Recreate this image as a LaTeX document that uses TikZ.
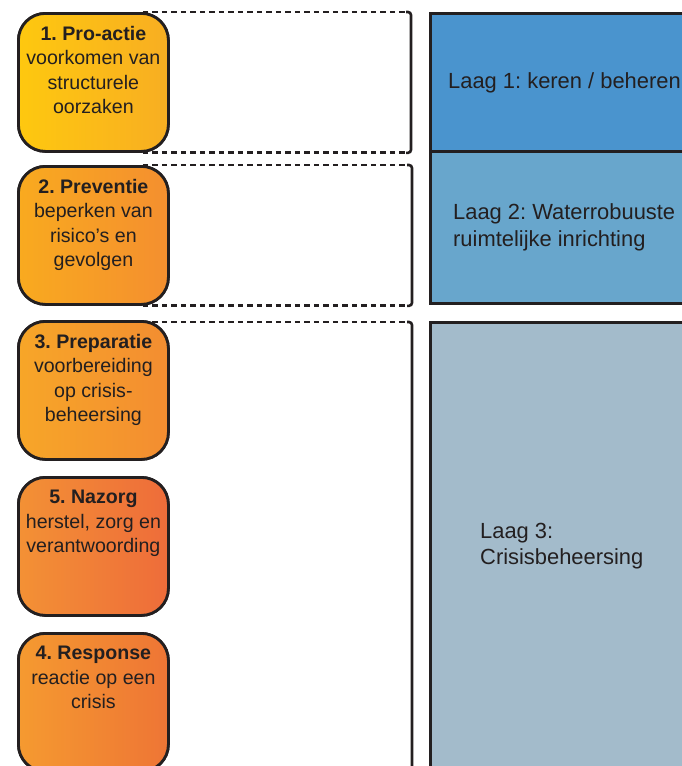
\documentclass[tikz,border=0pt]{standalone}
\usepackage{fontspec}
\setmainfont{Liberation Sans}
\frenchspacing
\definecolor{ink}{HTML}{231F20}
\definecolor{layA}{HTML}{4A94CE}
\definecolor{layB}{HTML}{68A6CC}
\definecolor{layC}{HTML}{A3BBCB}
\definecolor{pAl}{HTML}{FEC80F}\definecolor{pAr}{HTML}{F8AE22}
\definecolor{pBl}{HTML}{F9AA1F}\definecolor{pBr}{HTML}{F48F2F}
\definecolor{pCl}{HTML}{F7A628}\definecolor{pCr}{HTML}{F38D31}
\definecolor{pEl}{HTML}{F39135}\definecolor{pEr}{HTML}{EE6C3A}
\definecolor{pDl}{HTML}{F59A30}\definecolor{pDr}{HTML}{EE7535}
\begin{document}
\begin{tikzpicture}[x=1pt,y=-1pt,
  phase/.style={draw=ink, line width=2.8pt, rounded corners=27pt,
    minimum width=150pt, minimum height=138pt, inner sep=0pt, anchor=north west},
  phasetext/.style={anchor=north, align=center, inner sep=0pt, text=ink,
    font=\fontsize{19.6}{24.5}\selectfont},
  layer/.style={draw=ink, line width=3pt, inner sep=0pt, anchor=north west},
  layertext/.style={anchor=north west, align=left, inner sep=0pt, text=ink,
    font=\fontsize{21.9}{26.5}\selectfont},
  bracketdash/.style={draw=ink, line width=2.8pt, dash pattern=on 5.5pt off 4pt},
  bracketside/.style={draw=ink, line width=2.6pt, rounded corners=3pt},
]
\useasboundingbox (0,0) rectangle (682,766);
\clip (0,0) rectangle (682,766);

% layers on the right
\node[layer, fill=layA, minimum width=280pt, minimum height=138pt] (l1) at (429,12) {};
\node[layer, fill=layB, minimum width=280pt, minimum height=152pt] (l2) at (429,150) {};
\node[layer, fill=layC, minimum width=280pt, minimum height=480pt] (l3) at (429,321) {};
\node[layertext] (l1t) at (448,72) {Laag 1: keren / beheren};
\node[layertext] (l2t) at (453,203.5) {Laag 2: Waterrobuuste\\ruimtelijke inrichting};
\node[layertext] (l3t) at (480,523) {Laag 3:\\Crisisbeheersing};

% rails of the brackets
\coordinate (railA) at (411,0);
\coordinate (railB) at (412,0);

% phase box outlines, placed first so the brackets can refer to them
\path (17,12) node[phase] (b1) {};
\path (17,165) node[phase] (b2) {};
\path (17,320) node[phase] (b3) {};
\path (17,476) node[phase] (b5) {};
\path (17,632) node[phase] (b4) {};

% brackets
\coordinate (t1) at (b1.north -| railA);
\coordinate (u1) at (b1.south -| railA);
\draw[bracketdash] ([xshift=-27pt]b1.north east) -- ([xshift=-4pt]t1);
\draw[bracketdash] ([xshift=-27pt]b1.south east) -- ([xshift=-4pt]u1);
\draw[bracketside] ([xshift=-5pt]t1) -- (t1) -- (u1) -- ([xshift=-5pt]u1);

\coordinate (t2) at (b2.north -| railB);
\coordinate (u2) at (b2.south -| railB);
\draw[bracketdash] ([xshift=-27pt]b2.north east) -- ([xshift=-4pt]t2);
\draw[bracketdash] ([xshift=-27pt]b2.south east) -- ([xshift=-4pt]u2);
\draw[bracketside] ([xshift=-5pt]t2) -- (t2) -- (u2) -- ([xshift=-5pt]u2);

\coordinate (t3) at ([yshift=-2pt]b3.north -| railB);
\coordinate (u3) at (412,800);
\draw[bracketdash] ([xshift=-27pt,yshift=-2pt]b3.north east) -- ([xshift=-4pt]t3);
\draw[bracketside] ([xshift=-5pt]t3) -- (t3) -- (u3);

% phase boxes, drawn on top of the dashed lines
\node[phase, left color=pAl, right color=pAr] (b1) at (17,12) {};
\node[phase, left color=pBl, right color=pBr] (b2) at (17,165) {};
\node[phase, left color=pCl, right color=pCr] (b3) at (17,320) {};
\node[phase, left color=pEl, right color=pEr] (b5) at (17,476) {};
\node[phase, left color=pDl, right color=pDr] (b4) at (17,632) {};

\node[phasetext] (b1t) at ([yshift=-14pt]b1.north)
  {\textbf{1. Pro-actie}\\voorkomen van\\structurele\\oorzaken};
\node[phasetext] (b2t) at ([yshift=-14pt]b2.north)
  {\textbf{2. Preventie}\\beperken van\\risico’s en\\gevolgen};
\node[phasetext] (b3t) at ([yshift=-14pt]b3.north)
  {\textbf{3. Preparatie}\\voorbereiding\\op crisis-\\beheersing};
\node[phasetext] (b5t) at ([yshift=-14pt]b5.north)
  {\textbf{5. Nazorg}\\herstel, zorg en\\verantwoording};
\node[phasetext] (b4t) at ([yshift=-14pt]b4.north)
  {\textbf{4. Response}\\reactie op een\\crisis};
\end{tikzpicture}
\end{document}
